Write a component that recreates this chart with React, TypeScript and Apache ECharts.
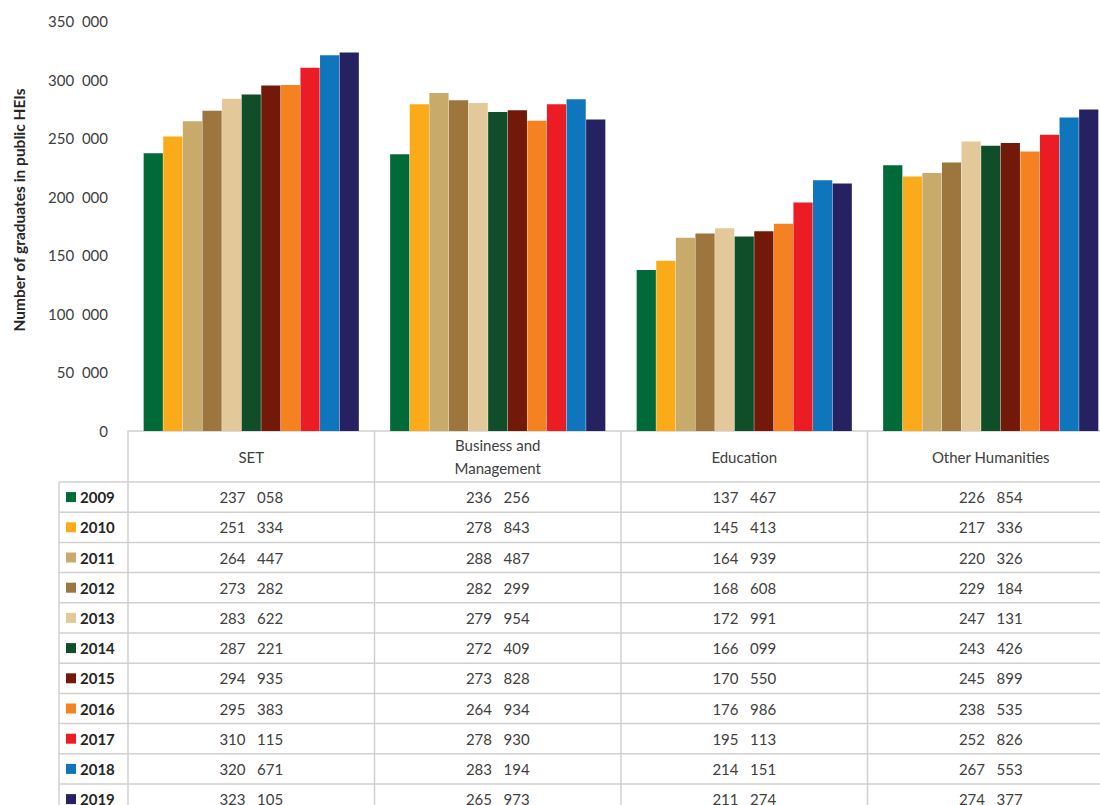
import React, { useEffect, useRef } from "react";
import * as echarts from "echarts";

const categories = ["SET", "Business and\nManagement", "Education", "Other Humanities"];
const years = ["2009", "2010", "2011", "2012", "2013", "2014", "2015", "2016", "2017", "2018", "2019"];
const setValues = [237058, 251334, 264447, 273282, 283622, 287221, 294935, 295383, 310115, 320671, 323105];
const businessValues = [236256, 278843, 288487, 282299, 279954, 272409, 273828, 264934, 278930, 283194, 265973];
const educationValues = [137467, 145413, 164939, 168608, 172991, 166099, 170550, 176986, 195113, 214151, 211274];
const humanitiesValues = [226854, 217336, 220326, 229184, 247131, 243426, 245899, 238535, 252826, 267553, 274377];
const yearColors = ["#006a38", "#fbab1a", "#c8aa6b", "#9c763c", "#e3c999", "#0f4e28", "#72190a", "#f58220", "#ec1c24", "#0f75bc", "#262262"];
const yTicks = { min: 0, max: 350000, interval: 50000 };

const FONT = "Lato, 'Open Sans', sans-serif";

function fmt(n: number, sep: string): string {
  if (n < 1000) return String(n);
  const th = Math.floor(n / 1000);
  const rest = String(n % 1000).padStart(3, "0");
  return th + sep + rest;
}

export default function App() {
  const ref = useRef<HTMLDivElement>(null);
  useEffect(() => {
    if (!ref.current) return;
    document.body.style.margin = "0";
    document.body.style.overflow = "hidden";
    document.documentElement.style.overflow = "hidden";
    const chart = echarts.init(ref.current, undefined, { renderer: "svg" });
    const columns = [setValues, businessValues, educationValues, humanitiesValues];
    chart.setOption({
      animation: false,
      backgroundColor: "#ffffff",
      grid: { left: 128, top: 21, width: 986, height: 410, containLabel: false },
      xAxis: {
        type: "category",
        data: categories,
        axisLine: { show: true, lineStyle: { color: "#d0d0d0", width: 1.5 } },
        axisTick: { show: false },
        axisLabel: { show: false },
        splitLine: { show: false },
      },
      yAxis: {
        type: "value",
        min: yTicks.min,
        max: yTicks.max,
        interval: yTicks.interval,
        axisLine: { show: false },
        axisTick: { show: false },
        splitLine: { show: false },
        axisLabel: {
          margin: 20,
          color: "#404040",
          fontSize: 15,
          fontFamily: FONT,
          formatter: (v: number) => fmt(v, "\u00A0\u00A0"),
        },
        name: "Number of graduates in public HEIs",
        nameLocation: "middle",
        nameRotate: 90,
        nameGap: 101,
        nameTextStyle: {
          color: "#262626",
          fontSize: 15.5,
          fontWeight: "bold",
          fontFamily: FONT,
          padding: [0, 0, 0, 32],
        },
      },
      series: years.map((y, i) => ({
        name: y,
        type: "bar",
        data: columns.map((col) => col[i]),
        barGap: "2%",
        barCategoryGap: "12.7%",
        itemStyle: { color: yearColors[i] },
      })),
    });

    // Build the data table below the axis from the data arrays
    const c0 = chart.convertToPixel({ xAxisIndex: 0 }, 0) as number;
    const c1 = chart.convertToPixel({ xAxisIndex: 0 }, 1) as number;
    const band = c1 - c0;
    const axisY = chart.convertToPixel({ yAxisIndex: 0 }, 0) as number;
    const headerBottom = axisY + 51;
    const rowH = 30.2;
    const legendLeft = 59;
    const tableBottom = headerBottom + rowH * (years.length + 1);
    const rightEnd = c0 - band / 2 + band * categories.length;
    const lineStyle = { stroke: "#d0d0d0", lineWidth: 1.5 };
    const els: any[] = [];
    for (let i = 0; i <= categories.length; i++) {
      const x = c0 - band / 2 + band * i;
      els.push({ type: "line", silent: true, shape: { x1: x, y1: axisY, x2: x, y2: tableBottom }, style: lineStyle });
    }
    els.push({ type: "line", silent: true, shape: { x1: legendLeft, y1: headerBottom, x2: legendLeft, y2: tableBottom }, style: lineStyle });
    for (let k = 0; k <= years.length; k++) {
      const y = headerBottom + rowH * k;
      els.push({ type: "line", silent: true, shape: { x1: legendLeft, y1: y, x2: rightEnd, y2: y }, style: lineStyle });
    }
    categories.forEach((cat, i) => {
      els.push({
        type: "text",
        silent: true,
        x: c0 + band * i,
        y: (axisY + headerBottom) / 2,
        style: {
          text: cat,
          fill: "#404040",
          font: `15px ${FONT}`,
          align: "center",
          verticalAlign: "middle",
          lineHeight: 23,
        },
      });
    });
    years.forEach((yr, r) => {
      const cy = headerBottom + rowH * r + rowH / 2;
      els.push({ type: "rect", silent: true, shape: { x: 66, y: cy - 5, width: 10, height: 10 }, style: { fill: yearColors[r] } });
      els.push({
        type: "text",
        silent: true,
        x: 80,
        y: cy,
        style: { text: yr, fill: "#262626", font: `bold 15px ${FONT}`, align: "left", verticalAlign: "middle" },
      });
      columns.forEach((col, i) => {
        els.push({
          type: "text",
          silent: true,
          x: c0 + band * i,
          y: cy,
          style: {
            text: fmt(col[r], "\u00A0\u00A0\u00A0"),
            fill: "#404040",
            font: `15px ${FONT}`,
            align: "center",
            verticalAlign: "middle",
          },
        });
      });
    });
    chart.setOption({ graphic: { elements: els } });

    return () => chart.dispose();
  }, []);
  return (
    <div
      ref={ref}
      style={{ position: "fixed", left: 0, top: 0, width: 1120, height: 805, background: "#fff" }}
    />
  );
}
